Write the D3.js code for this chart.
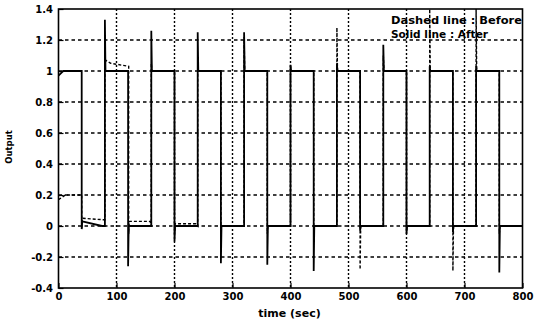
<!DOCTYPE html>
<html>
<head>
<meta charset="utf-8">
<script src="https://cdn.jsdelivr.net/npm/d3@7"></script>
<style>
  html, body { margin: 0; padding: 0; background: #fff; }
  svg { display: block; }
  text { font-family: "DejaVu Sans", sans-serif; fill: #000; }
</style>
</head>
<body>
<svg id="chart" width="536" height="323"></svg>
<script>
// ---- data ----
const xTicks = [0, 100, 200, 300, 400, 500, 600, 700, 800];
const yTicks = [-0.4, -0.2, 0, 0.2, 0.4, 0.6, 0.8, 1, 1.2, 1.4];
const yTickLabels = ["-0.4", "-0.2", "0", "0.2", "0.4", "0.6", "0.8", "1", "1.2", "1.4"];

// Solid line : After
const afterT = [0, 8, 40, 40, 41, 75, 80, 80, 81, 120, 120, 121, 160, 160, 161, 200, 200, 201,
  240, 240, 241, 280, 280, 281, 320, 320, 321, 360, 360, 361, 400, 400, 401, 440, 440, 441,
  480, 480, 481, 520, 520, 521, 560, 560, 561, 600, 600, 601, 640, 640, 641, 680, 680, 681,
  720, 720, 721, 760, 760, 761, 800];
const afterV = [0.97, 1.0, 1.0, -0.02, 0.03, 0.0, 0.0, 1.33, 1.0, 1.0, -0.26, 0.0, 0.0, 1.26, 1.0, 1.0, -0.10, 0.0,
  0.0, 1.25, 1.0, 1.0, -0.24, 0.0, 0.0, 1.25, 1.0, 1.0, -0.25, 0.0, 0.0, 1.04, 1.0, 1.0, -0.29, 0.0,
  0.0, 1.05, 1.0, 1.0, -0.03, 0.0, 0.0, 1.17, 1.0, 1.0, -0.05, 0.0, 0.0, 1.03, 1.0, 1.0, -0.04, 0.0,
  0.0, 1.03, 1.0, 1.0, -0.30, 0.0, 0.0];

// Dashed line : Before
const beforeT = [0, 12, 40, 40, 41, 79, 80, 80, 81, 90, 121, 121, 122, 158, 160, 160, 161, 200, 200, 201, 237, 240, 240, 241,
  280, 280, 281, 320, 320, 321, 360, 360, 361, 400, 400, 401, 440, 440, 441, 480, 480, 481,
  520, 520, 521, 560, 560, 561, 600, 600, 601, 640, 640, 641, 680, 680, 681, 720, 720, 721, 760, 760, 761, 800];
const beforeV = [0.17, 0.2, 0.2, -0.02, 0.05, 0.04, 0.04, 1.10, 1.07, 1.05, 1.03, -0.05, 0.03, 0.03, 0.0, 1.05, 1.0, 1.0, -0.05, 0.015, 0.015, 0.0, 1.05, 1.0,
  1.0, -0.05, 0.0, 0.0, 1.22, 1.0, 1.0, -0.05, 0.0, 0.0, 1.03, 1.0, 1.0, -0.05, 0.0, 0.0, 1.28, 1.0,
  1.0, -0.28, 0.0, 0.0, 1.10, 1.0, 1.0, -0.05, 0.0, 0.0, 1.40, 1.0, 1.0, -0.29, 0.0, 0.0, 1.40, 1.0, 1.0, -0.05, 0.0, 0.0];

const legendLines = ["Dashed line : Before", "Solid line : After"];
const xLabel = "time (sec)";
const yLabel = "Output";

// ---- drawing ----
const svg = d3.select("#chart");
const L = 58.5, R = 522.5, T = 9, B = 288;
const x = d3.scaleLinear().domain([0, 800]).range([L, R]);
const y = d3.scaleLinear().domain([-0.4, 1.4]).range([B, T]);

// grid
const grid = svg.append("g");
grid.selectAll("line.h").data(yTicks.filter(v => v > -0.4 && v < 1.4)).join("line")
  .attr("x1", L).attr("x2", R).attr("y1", d => y(d)).attr("y2", d => y(d))
  .attr("stroke", "#000").attr("stroke-width", 1.3).attr("stroke-dasharray", "3.5,3");
grid.selectAll("line.v").data(xTicks.filter(v => v > 0 && v < 800)).join("line")
  .attr("x1", d => x(d)).attr("x2", d => x(d)).attr("y1", T).attr("y2", B)
  .attr("stroke", "#000").attr("stroke-width", 1.4).attr("stroke-dasharray", "2,2");

// axes
const xAxis = d3.axisBottom(x).tickValues(xTicks).tickFormat(d3.format("d")).tickSize(-5).tickPadding(5);
const yAxis = d3.axisLeft(y).tickValues(yTicks).tickFormat((d, i) => yTickLabels[i]).tickSize(-5).tickPadding(5.5);
const gx = svg.append("g").attr("transform", `translate(0,${B})`).call(xAxis);
const gy = svg.append("g").attr("transform", `translate(${L},0)`).call(yAxis);
[gx, gy].forEach(g => {
  g.select(".domain").remove();
  g.selectAll("line").attr("stroke", "#000").attr("stroke-width", 1.2);
  g.selectAll("text").attr("font-family", "DejaVu Sans").attr("font-weight", "bold").attr("font-size", 10).attr("fill", "#000");
});

// series
const line = d3.line().x(d => x(d[0])).y(d => y(d[1]));
const clip = svg.append("clipPath").attr("id", "clip").append("rect")
  .attr("x", L).attr("y", T).attr("width", R - L).attr("height", B - T);
const before = beforeT.map((t, i) => [t, beforeV[i]]);
const after = afterT.map((t, i) => [t, afterV[i]]);
svg.append("path").datum(before).attr("d", line).attr("clip-path", "url(#clip)")
  .attr("fill", "none").attr("stroke", "#000").attr("stroke-width", 1.4).attr("stroke-dasharray", "3,2");
svg.append("path").datum(after).attr("d", line).attr("clip-path", "url(#clip)")
  .attr("fill", "none").attr("stroke", "#000").attr("stroke-width", 1.8).attr("stroke-linejoin", "miter");

// box
svg.append("rect").attr("x", L).attr("y", T).attr("width", R - L).attr("height", B - T)
  .attr("fill", "none").attr("stroke", "#000").attr("stroke-width", 1.6);

// legend text
svg.selectAll("text.leg").data(legendLines).join("text").attr("class", "leg")
  .attr("x", 391).attr("y", (d, i) => 24 + i * 13.5)
  .attr("font-size", 11).attr("font-weight", "bold")
  .attr("textLength", (d, i) => i === 0 ? 131 : 97).attr("lengthAdjust", "spacingAndGlyphs")
  .text(d => d);

// labels
svg.append("text").attr("x", (L + R) / 2 - 1).attr("y", 316.5).attr("text-anchor", "middle")
  .attr("font-size", 11).attr("font-weight", "bold").text(xLabel);
svg.append("text").attr("transform", "translate(12,147) rotate(-90)").attr("text-anchor", "middle")
  .attr("font-size", 8.5).attr("font-weight", "bold").text(yLabel);
</script>
</body>
</html>
